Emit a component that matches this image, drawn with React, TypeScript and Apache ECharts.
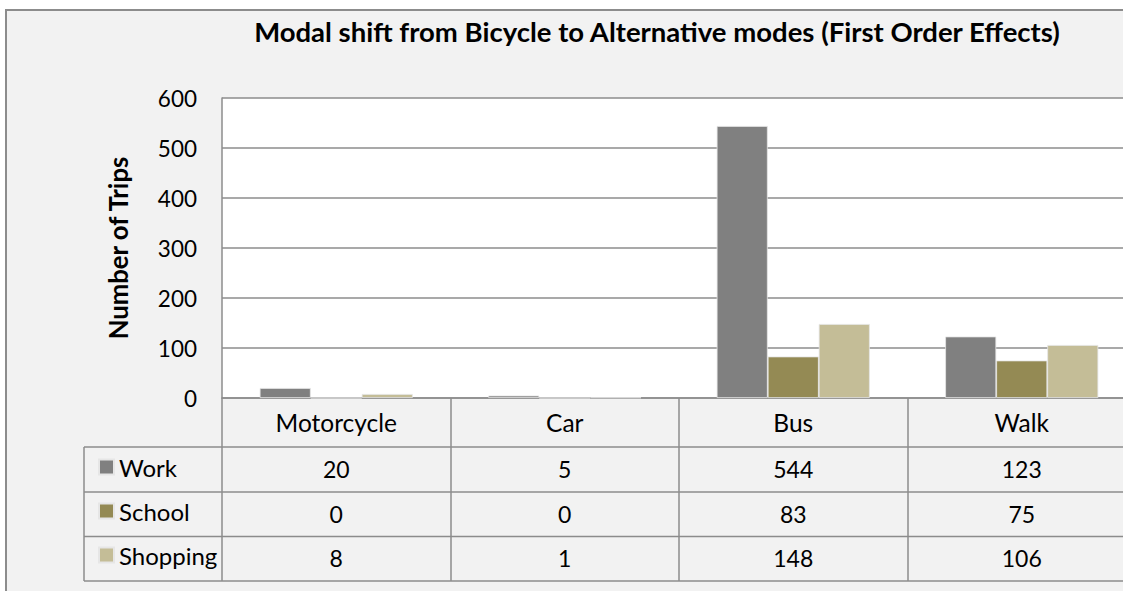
import React, { useEffect, useRef } from "react";
import * as echarts from "echarts";

const categories = ["Motorcycle", "Car", "Bus", "Walk"];
const seriesNames = ["Work", "School", "Shopping"];
const work = [20, 5, 544, 123];
const school = [0, 0, 83, 75];
const shopping = [8, 1, 148, 106];
const seriesValues = [work, school, shopping];
const colors = ["#808080", "#948A54", "#C4BD97"];
const yMin = 0;
const yMax = 600;
const yInterval = 100;
const titleText = "Modal shift from Bicycle to Alternative modes (First Order Effects)";
const yAxisTitle = "Number of Trips";

const FONT = "Lato, 'Open Sans', sans-serif";
const GRID_COLOR = "#8c8c8c";

export default function App() {
  const ref = useRef<HTMLDivElement>(null);
  useEffect(() => {
    if (!ref.current) return;
    const chart = echarts.init(ref.current, undefined, { renderer: "svg" });
    const tableLines = [447, 492, 536.5, 581].map((y) => ({
      type: "line",
      z: 10,
      shape: { x1: 84, y1: y, x2: 1160, y2: y },
      style: { stroke: GRID_COLOR, lineWidth: 1.5 },
    }));
    chart.setOption({
      animation: false,
      backgroundColor: "#ffffff",
      textStyle: { fontFamily: FONT },
      title: {
        text: titleText,
        left: 652,
        top: 9,
        textAlign: "center",
        textStyle: { fontFamily: FONT, fontWeight: "bold", fontSize: 27.5, color: "#000", lineHeight: 34 },
      },
      graphic: [
        {
          type: "rect",
          z: -10,
          shape: { x: 6, y: 10, width: 1300, height: 700 },
          style: { fill: "#f2f2f2", stroke: GRID_COLOR, lineWidth: 2 },
        },
        ...tableLines,
        {
          type: "line",
          z: 10,
          shape: { x1: 84, y1: 447, x2: 84, y2: 581 },
          style: { stroke: GRID_COLOR, lineWidth: 1.5 },
        },
      ],
      legend: {
        orient: "vertical",
        left: 93,
        top: 450,
        icon: "rect",
        itemWidth: 15,
        itemHeight: 15,
        itemGap: 20,
        data: seriesNames,
        textStyle: { fontFamily: FONT, fontSize: 24, color: "#000", padding: [0, 0, 8, 0] },
      },
      grid: {
        left: 222,
        top: 98,
        width: 914,
        height: 300,
        show: true,
        backgroundColor: "#ffffff",
        borderWidth: 0,
      },
      xAxis: {
        type: "category",
        data: categories,
        axisLine: { show: true, lineStyle: { color: GRID_COLOR, width: 1.5 } },
        axisTick: { show: true, length: 183, lineStyle: { color: GRID_COLOR, width: 1.5 } },
        axisLabel: {
          margin: 0,
          interval: 0,
          color: "#000",
          fontFamily: FONT,
          fontSize: 24,
          formatter: (v: string, i: number) =>
            `{h|${v}}\n{r|${work[i]}}\n{r|${school[i]}}\n{r|${shopping[i]}}`,
          rich: {
            h: { fontFamily: FONT, fontSize: 24.5, color: "#000", lineHeight: 49 },
            r: { fontFamily: FONT, fontSize: 23, color: "#000", lineHeight: 44.5 },
          },
        },
      },
      yAxis: {
        type: "value",
        min: yMin,
        max: yMax,
        interval: yInterval,
        name: yAxisTitle,
        nameLocation: "middle",
        nameGap: 91,
        nameRotate: 90,
        nameTextStyle: { fontFamily: FONT, fontWeight: "bold", fontSize: 25.7, color: "#000" },
        axisLine: { show: true, lineStyle: { color: GRID_COLOR, width: 1.5 } },
        axisTick: { show: false },
        axisLabel: { margin: 25, color: "#000", fontFamily: FONT, fontSize: 22.5 },
        splitLine: { show: true, lineStyle: { color: GRID_COLOR, width: 1.5 } },
      },
      series: seriesNames.map((name, k) => ({
        name,
        type: "bar",
        data: seriesValues[k],
        barGap: "0%",
        barCategoryGap: "33%",
        itemStyle: { color: colors[k], borderColor: "#e6e6e6", borderWidth: 0.8 },
      })),
    });
    return () => chart.dispose();
  }, []);
  return (
    <div style={{ position: "fixed", left: 0, top: 0, width: 1123, height: 591, overflow: "hidden" }}>
      <div ref={ref} style={{ width: 1160, height: 591 }} />
    </div>
  );
}
